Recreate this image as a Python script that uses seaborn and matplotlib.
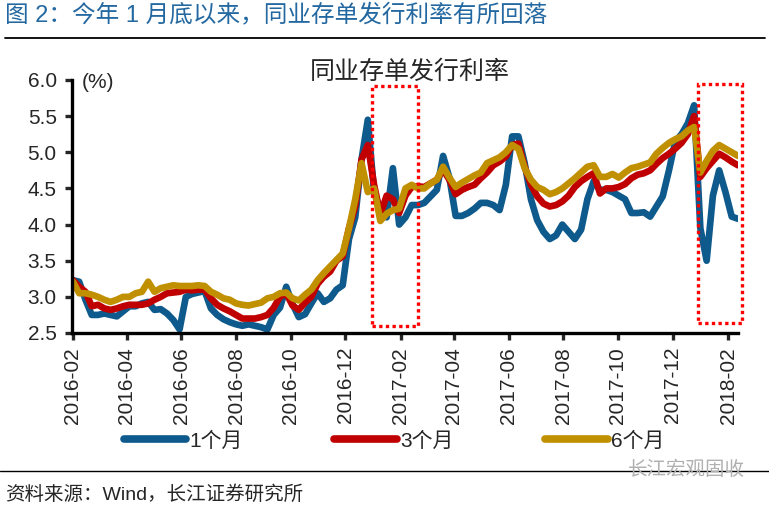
import numpy as np
import pandas as pd
import matplotlib
matplotlib.use("Agg")
import matplotlib.pyplot as plt
import matplotlib.dates as mdates
from matplotlib.patches import Rectangle
from matplotlib.lines import Line2D
import seaborn as sns

# ---------------- data ----------------
start_date = "2016-02-01"
n_points = 107
dates = pd.date_range(start_date, periods=n_points, freq="7D")

series_names = ["1个月", "3个月", "6个月"]

rate_1m = [3.23, 3.21, 2.96, 2.75, 2.75, 2.77, 2.75, 2.73, 2.80, 2.87,
           2.87, 2.91, 2.93, 2.82, 2.83, 2.77, 2.68, 2.55, 3.00, 3.04,
           3.06, 3.08, 2.84, 2.75, 2.69, 2.65, 2.62, 2.60, 2.62, 2.60,
           2.58, 2.55, 2.75, 2.85, 3.14, 2.90, 2.72, 2.76, 2.91, 3.05,
           2.93, 2.98, 3.10, 3.16, 3.80, 4.10, 4.90, 5.45, 4.45, 4.20,
           4.10, 4.78, 4.00, 4.10, 4.27, 4.27, 4.30, 4.39, 4.48, 4.95,
           4.65, 4.12, 4.12, 4.16, 4.22, 4.30, 4.30, 4.27, 4.20, 4.55,
           5.22, 5.22, 4.85, 4.35, 4.06, 3.90, 3.80, 3.85, 4.00, 3.90,
           3.80, 3.93, 4.35, 4.60, 4.48, 4.48, 4.45, 4.40, 4.35, 4.16,
           4.16, 4.17, 4.11, 4.25, 4.39, 4.75, 5.15, 5.25, 5.40, 5.65,
           3.95, 3.50, 4.40, 4.75, 4.45, 4.11, 4.08]

rate_3m = [3.23, 3.14, 3.07, 2.87, 2.89, 2.84, 2.82, 2.84, 2.87, 2.89,
           2.89, 2.89, 2.91, 2.96, 3.00, 3.05, 3.06, 3.07, 3.10, 3.09,
           3.10, 3.10, 2.98, 2.89, 2.84, 2.80, 2.75, 2.70, 2.70, 2.70,
           2.72, 2.75, 2.85, 3.00, 3.05, 2.88, 2.82, 2.92, 3.00, 3.18,
           3.28, 3.35, 3.50, 3.56, 3.95, 4.25, 4.90, 5.10, 4.55, 4.14,
           4.40, 4.35, 4.16, 4.40, 4.52, 4.53, 4.52, 4.57, 4.62, 4.76,
           4.62, 4.42, 4.48, 4.52, 4.55, 4.64, 4.72, 4.82, 4.87, 4.94,
           5.10, 5.12, 4.80, 4.55, 4.39, 4.29, 4.25, 4.27, 4.32, 4.40,
           4.52, 4.60, 4.66, 4.71, 4.43, 4.50, 4.50, 4.52, 4.56, 4.64,
           4.69, 4.71, 4.75, 4.84, 4.92, 4.98, 5.05, 5.13, 5.25, 5.50,
           4.66, 4.78, 4.88, 4.98, 4.93, 4.87, 4.82]

rate_6m = [3.21, 3.05, 3.05, 3.03, 3.00, 2.96, 2.93, 2.96, 3.00, 3.00,
           3.05, 3.07, 3.21, 3.07, 3.12, 3.14, 3.16, 3.15, 3.15, 3.15,
           3.16, 3.15, 3.07, 3.03, 2.98, 2.96, 2.91, 2.89, 2.88, 2.90,
           2.92, 2.98, 3.00, 3.05, 3.06, 2.98, 2.95, 3.03, 3.10, 3.23,
           3.33, 3.42, 3.51, 3.60, 3.95, 4.35, 4.85, 4.45, 4.50, 4.05,
           4.15, 4.20, 4.22, 4.50, 4.55, 4.50, 4.50, 4.57, 4.62, 4.80,
           4.65, 4.52, 4.58, 4.63, 4.68, 4.72, 4.85, 4.89, 4.93, 5.00,
           5.10, 5.05, 4.78, 4.62, 4.52, 4.48, 4.42, 4.45, 4.50, 4.57,
           4.64, 4.72, 4.80, 4.82, 4.66, 4.66, 4.70, 4.65, 4.72, 4.78,
           4.80, 4.83, 4.86, 4.98, 5.06, 5.13, 5.18, 5.22, 5.30, 5.35,
           4.72, 4.88, 5.02, 5.10, 5.05, 5.00, 4.95]

# highlighted windows (date range, value range)
box_dates = [("2016-12-31", "2017-02-20"), ("2017-12-29", "2018-02-17")]
box_values = [(2.60, 5.92), (2.64, 5.94)]

header = "图 2：今年 1 月底以来，同业存单发行利率有所回落"
chart_title = "同业存单发行利率"
unit_label = "(%)"
source_text = "资料来源：Wind，长江证券研究所"
watermark = "长江宏观固收"

colors = ["#0f5a8c", "#c00000", "#c09000"]

# ---------------- build frame ----------------
df = pd.DataFrame({
    "date": np.concatenate([dates, dates, dates]),
    "value": rate_1m + rate_3m + rate_6m,
    "series": np.repeat(series_names, n_points),
})

sns.set_style("white")
plt.rcParams["font.family"] = ["Liberation Sans", "Noto Sans CJK SC", "DejaVu Sans"]

W, H = 769, 508
fig = plt.figure(figsize=(W / 100, H / 100), dpi=100)
ax = fig.add_axes([72 / W, 1 - 333 / H, 666 / W, 253 / H])

sns.lineplot(data=df, x="date", y="value", hue="series", hue_order=series_names,
             palette=colors, linewidth=4.8, ax=ax, legend=False)
for ln in ax.lines:
    ln.set_solid_capstyle("round")
    ln.set_solid_joinstyle("round")

ax.set_xlim(pd.Timestamp("2016-01-31"), pd.Timestamp("2018-02-12"))
ax.set_ylim(2.5, 6.0)
ax.set_yticks(np.arange(2.5, 6.01, 0.5))
ax.yaxis.set_major_formatter(matplotlib.ticker.FormatStrFormatter("%.1f"))
ax.xaxis.set_major_locator(mdates.MonthLocator(bymonth=[2, 4, 6, 8, 10, 12]))
ax.xaxis.set_major_formatter(mdates.DateFormatter("%Y-%m"))
ax.set_xlabel("")
ax.set_ylabel("")

for s in ["top", "right"]:
    ax.spines[s].set_visible(False)
for s in ["left", "bottom"]:
    ax.spines[s].set_linewidth(2.4)
    ax.spines[s].set_color("black")

ax.tick_params(axis="y", direction="out", length=5, width=2.4, labelsize=15,
               pad=6, left=True)
ax.tick_params(axis="x", direction="out", length=5, width=2.4, labelsize=15,
               pad=5, bottom=True, labelrotation=90)

# unit label
ax.text(0.014, 5.96, unit_label, transform=ax.get_yaxis_transform(),
        fontsize=15, va="center", ha="left")

# highlight boxes
for (d0, d1), (v0, v1) in zip(box_dates, box_values):
    x0 = mdates.date2num(pd.Timestamp(d0))
    x1 = mdates.date2num(pd.Timestamp(d1))
    rect = Rectangle((x0, v0), x1 - x0, v1 - v0, fill=False, edgecolor="#ff0000",
                     linewidth=2.4, linestyle=(0, (1, 1)), clip_on=False, zorder=5)
    ax.add_patch(rect)

# titles
fig.text(410 / W, 1 - 72 / H, chart_title, fontsize=18, ha="center", va="center")
fig.text(5 / W, 1 - 16 / H, header, fontsize=17, ha="left", va="center", color="#2368a0")
fig.add_artist(Line2D([5 / W, 765 / W], [1 - 38 / H, 1 - 38 / H], color="black", linewidth=1.3))
fig.add_artist(Line2D([0, 1], [1 - 471 / H, 1 - 471 / H], color="black", linewidth=1.0))
fig.text(5 / W, 1 - 495 / H, source_text, fontsize=14, ha="left", va="center")
fig.text(745 / W, 1 - 470 / H, watermark, fontsize=14, ha="right", va="center", color="#b0b0b0")

# legend
handles = [Line2D([0], [0], color=c, linewidth=5.5, solid_capstyle="round") for c in colors]
fig.legend(handles, series_names, loc="center", bbox_to_anchor=(394 / W, 1 - 441 / H),
           ncol=3, frameon=False, fontsize=15, handlelength=3.0, handletextpad=0.15,
           columnspacing=4.4)

fig.savefig("out.png", dpi=100)
